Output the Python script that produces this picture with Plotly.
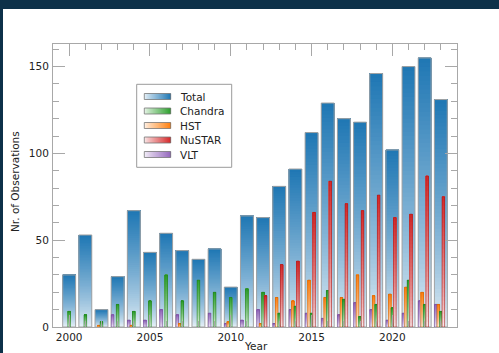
import plotly.graph_objects as go

# Observations per year and per facility
years = list(range(2000, 2024))
total = [30, 53, 10, 29, 67, 43, 54, 44, 39, 45, 23, 64, 63, 81, 91, 112, 129, 120, 118, 146, 102, 150, 155, 131]
chandra = [9, 7, 3, 13, 9, 15, 30, 15, 27, 20, 17, 22, 20, 8, 12, 8, 21, 16, 6, 13, 11, 27, 13, 9]
hst = [0, 0, 1, 0, 1, 0, 0, 2, 0, 0, 3, 0, 2, 17, 15, 27, 17, 17, 30, 18, 19, 23, 20, 13]
nustar = [0, 0, 0, 0, 0, 0, 0, 0, 0, 0, 0, 0, 18, 36, 38, 66, 84, 71, 67, 76, 63, 65, 87, 75]
vlt = [0, 0, 0, 7, 4, 4, 10, 7, 0, 8, 2, 4, 10, 2, 10, 8, 5, 7, 14, 10, 4, 8, 15, 13]

series_names = ["Total", "Chandra", "HST", "NuSTAR", "VLT"]
x_ticks = [2000, 2005, 2010, 2015, 2020]

# (values, base colour, outline colour, bar width, centre offset)
styles = {
    "Total": (total, (31, 119, 180), "#a3a3a3", 0.80, 0.0),
    "VLT": (vlt, (148, 103, 189), "#6f4c93", 0.16, -0.31),
    "HST": (hst, (255, 127, 14), "#c86208", 0.16, -0.155),
    "Chandra": (chandra, (44, 160, 44), "#1f7a1f", 0.16, 0.0),
    "NuSTAR": (nustar, (214, 39, 40), "#a01d1e", 0.16, 0.155),
}
draw_order = ["Total", "VLT", "HST", "Chandra", "NuSTAR"]

W, H = 499, 353
L, R, T, B = 53, 42, 44, 26
PW, PH = W - L - R, H - T - B


def px_x(px):
    return (px - L) / PW


def px_y(py):
    return (H - B - py) / PH


def shade(rgb, t):
    """Blend from white (t=0) to the full colour (t=1)."""
    r, g, b = rgb
    return "rgb({},{},{})".format(
        round(255 + (r - 255) * t), round(255 + (g - 255) * t), round(255 + (b - 255) * t)
    )


def ramp(frac):
    return 0.08 + 0.92 * frac ** 0.75


fig = go.Figure()

for name in draw_order:
    vals, rgb, edge, w, centre = styles[name]
    n_seg = 60 if name == "Total" else 30
    xs, ys, bases, cols = [], [], [], []
    # vertical gradient: stacked layers, each running from its own start up to the bar top,
    # painted bottom-up so every layer hides the paler one beneath it
    for k in range(n_seg):
        col = shade(rgb, ramp((k + 0.5) / n_seg))
        for yr, v in zip(years, vals):
            if v > 0:
                b0 = v * k / n_seg
                xs.append(yr)
                ys.append(v - b0)
                bases.append(b0)
                cols.append(col)
    fig.add_trace(go.Bar(
        x=xs, y=ys, base=bases, width=w, offset=centre - w / 2,
        marker=dict(color=cols, line=dict(width=0)),
        hoverinfo="skip", showlegend=False,
    ))
    fig.add_trace(go.Bar(
        x=years, y=[v if v > 0 else None for v in vals],
        width=w, offset=centre - w / 2, name=name,
        marker=dict(color="rgba(0,0,0,0)", line=dict(color=edge, width=1 if name == "Total" else 0.6)),
        showlegend=False,
    ))

axis_col = "#a8a8a8"
common = dict(
    showline=True, linecolor=axis_col, linewidth=1, mirror="ticks",
    ticks="inside", ticklen=12, tickcolor=axis_col, tickwidth=1,
    showgrid=False, zeroline=False, automargin=False,
    tickfont=dict(family="DejaVu Sans", size=10.5, color="#222"),
)
fig.update_xaxes(
    range=[1999, 2024], tickmode="array", tickvals=x_ticks,
    minor=dict(tickmode="linear", tick0=2000, dtick=1, ticks="inside", ticklen=6, tickcolor=axis_col),
    **common,
)
fig.update_yaxes(
    range=[0, 163], tickmode="linear", tick0=0, dtick=50, ticklabelstandoff=1,
    minor=dict(tickmode="linear", tick0=0, dtick=10, ticks="inside", ticklen=6, tickcolor=axis_col),
    **common,
)

shapes = [
    # white card behind the chart
    dict(type="rect", xref="paper", yref="paper", layer="below",
         x0=px_x(3), x1=px_x(W + 5), y0=px_y(H + 5), y1=px_y(9),
         fillcolor="white", line=dict(width=0)),
    # legend frame
    dict(type="rect", xref="paper", yref="paper",
         x0=px_x(136.7), x1=px_x(231.7), y0=px_y(167.3), y1=px_y(84.3),
         fillcolor="white", line=dict(color="#9a9a9a", width=1)),
]
annotations = [
    dict(text="Nr. of Observations", textangle=-90, x=px_x(15), y=px_y(182),
         xref="paper", yref="paper", xanchor="center", yanchor="middle", showarrow=False,
         font=dict(family="DejaVu Sans", size=10.5, color="#222")),
    dict(text="Year", x=px_x(256), y=px_y(346), xref="paper", yref="paper",
         xanchor="center", yanchor="middle", showarrow=False,
         font=dict(family="DejaVu Sans", size=10.5, color="#222")),
]

# legend entries: horizontal gradient swatch + label
sw_x0, sw_x1, sw_h = 144.3, 170.7, 6.0
n_sw = 26
for i, name in enumerate(series_names):
    _, rgb, edge, _, _ = styles[name]
    cy = 96.5 + 14.5 * i
    step = (sw_x1 - sw_x0) / n_sw
    for k in range(n_sw):
        shapes.append(dict(
            type="rect", xref="paper", yref="paper",
            x0=px_x(sw_x0 + k * step), x1=px_x(sw_x0 + (k + 1) * step + 0.3),
            y0=px_y(cy + sw_h / 2), y1=px_y(cy - sw_h / 2),
            fillcolor=shade(rgb, ramp((k + 0.5) / n_sw)), line=dict(width=0),
        ))
    shapes.append(dict(
        type="rect", xref="paper", yref="paper",
        x0=px_x(sw_x0), x1=px_x(sw_x1), y0=px_y(cy + sw_h / 2), y1=px_y(cy - sw_h / 2),
        fillcolor="rgba(0,0,0,0)", line=dict(color="#777", width=0.8),
    ))
    annotations.append(dict(
        text=name, x=px_x(177.5), y=px_y(cy), xref="paper", yref="paper",
        xanchor="left", yanchor="middle", showarrow=False,
        font=dict(family="DejaVu Sans", size=10.5, color="#222"),
    ))

fig.update_layout(
    width=W, height=H, margin=dict(l=L, r=R, t=T, b=B, autoexpand=False),
    paper_bgcolor="#0d3149", plot_bgcolor="white",
    barmode="overlay", bargap=0.2, showlegend=False,
    shapes=shapes, annotations=annotations,
    font=dict(family="DejaVu Sans", size=10.5, color="#222"),
)

fig.write_html("out.html")
